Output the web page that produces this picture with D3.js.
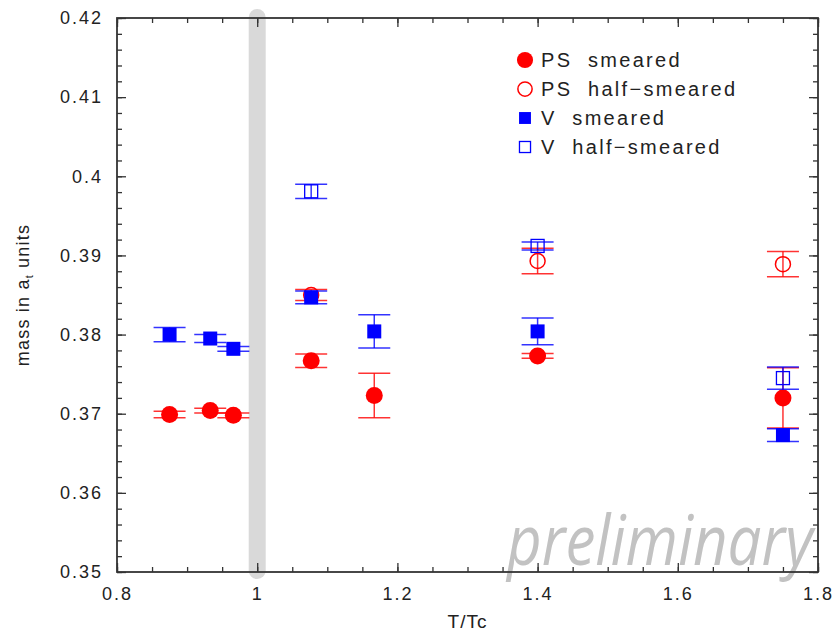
<!DOCTYPE html>
<html>
<head>
<meta charset="utf-8">
<script src="https://cdn.jsdelivr.net/npm/d3@7"></script>
<style>
	body { margin: 0; background: #fff; }
	svg text { font-family: 'Liberation Sans', Arial, sans-serif; fill: #222; }
</style>
</head>
<body>
<div id="chart"></div>
<script>
// T/Tc positions and masses (lattice units)
const tSmeared = [0.875, 0.933, 0.966, 1.077, 1.167, 1.4, 1.75]
const psSmeared = [0.3699, 0.3704, 0.3698, 0.3767, 0.3723, 0.3773, 0.3720]
const psSmearedErr = [0.0004, 0.0003, 0.0003, 0.00085, 0.0028, 0.0003, 0.0038]
const vSmeared = [0.3800, 0.3795, 0.3782, 0.3847, 0.3804, 0.3804, 0.3673]
const vSmearedErr = [0.0009, 0.0005, 0.0003, 0.0008, 0.0021, 0.0017, 0.0008]

const tHalf = [1.077, 1.4, 1.75]
const psHalf = [0.3850, 0.3893, 0.3889]
const psHalfErr = [0.0007, 0.0016, 0.0016]
const vHalf = [0.3981, 0.3912, 0.3745]
const vHalfErr = [0.0009, 0.0005, 0.0014]

const xTicks = [0.8, 1, 1.2, 1.4, 1.6, 1.8]
const yTicks = [0.35, 0.36, 0.37, 0.38, 0.39, 0.4, 0.41, 0.42]
const tcLine = 1

const legendLabels = ['PS  smeared', 'PS  half\u2212smeared', 'V  smeared', 'V  half\u2212smeared']

const width = 835
const height = 636
const margin = { top: 18, right: 17, bottom: 64, left: 117 }

const svg = d3.select('#chart').append('svg')
	.attr('width', width)
	.attr('height', height)

const x = d3.scaleLinear().domain([0.8, 1.8]).range([margin.left, width - margin.right])
const y = d3.scaleLinear().domain([0.35, 0.42]).range([height - margin.bottom, margin.top])

// grey band at Tc
svg.append('rect')
	.attr('x', x(tcLine) - 8.5)
	.attr('y', y(0.42) - 9)
	.attr('width', 17)
	.attr('height', y(0.35) - y(0.42) + 16)
	.attr('rx', 8.5)
	.attr('fill', '#d9d9d9')

// watermark, squeezed horizontally to fit the corner
const mark = svg.append('text')
	.style('font-family', "'Open Sans', sans-serif")
	.style('font-style', 'italic')
	.style('font-size', '70px')
	.style('fill', '#c2c2c2')
	.text('preliminary')
const markW = mark.node().getComputedTextLength()
mark.attr('transform', `translate(507,565) scale(${306 / markW},1)`)

// axes, ticks pointing inward on all four sides
const xMinor = d3.range(0.8, 1.8001, 0.05)
const yMinor = d3.range(0.35, 0.42001, 0.002)

function drawAxis(axis, transform, ticks, size, labels) {
	const g = svg.append('g')
		.attr('transform', transform)
		.call(axis.tickValues(ticks).tickSize(-size).tickSizeOuter(0).tickPadding(labels ? 12 : 0)
			.tickFormat(labels ? d3.format('') : ''))
	g.select('.domain').remove()
	g.selectAll('line').attr('stroke', '#333').attr('stroke-width', 1.3)
	g.selectAll('text')
		.style('font-size', '18px')
		.style('letter-spacing', '2px')
		.attr('fill', '#222')
	return g
}

const bottomY = y(0.35)
const topY = y(0.42)
drawAxis(d3.axisBottom(x), `translate(0,${bottomY})`, xMinor, 5, false)
drawAxis(d3.axisBottom(x), `translate(0,${bottomY})`, xTicks, 9, true)
	.selectAll('text').attr('dy', '0.9em')
drawAxis(d3.axisTop(x), `translate(0,${topY})`, xMinor, 5, false)
drawAxis(d3.axisTop(x), `translate(0,${topY})`, xTicks, 9, false)
drawAxis(d3.axisLeft(y), `translate(${x(0.8)},0)`, yMinor, 5, false)
drawAxis(d3.axisLeft(y), `translate(${x(0.8)},0)`, yTicks, 9, true)
	.selectAll('text').attr('dx', '-2px')
drawAxis(d3.axisRight(y), `translate(${x(1.8)},0)`, yMinor, 5, false)
drawAxis(d3.axisRight(y), `translate(${x(1.8)},0)`, yTicks, 9, false)

svg.append('rect')
	.attr('x', x(0.8))
	.attr('y', topY)
	.attr('width', x(1.8) - x(0.8))
	.attr('height', bottomY - topY)
	.attr('fill', 'none')
	.attr('stroke', '#333')
	.attr('stroke-width', 1.8)

// axis titles
svg.append('text')
	.attr('x', (x(0.8) + x(1.8)) / 2)
	.attr('y', 628)
	.attr('text-anchor', 'middle')
	.style('font-size', '19px')
	.style('letter-spacing', '1px')
	.text('T/Tc')

const yTitle = svg.append('text')
	.attr('transform', `translate(29,${(topY + bottomY) / 2}) rotate(-90)`)
	.attr('text-anchor', 'middle')
	.style('font-size', '18px')
	.style('letter-spacing', '1.2px')
yTitle.append('tspan').text('mass in a')
yTitle.append('tspan').attr('dy', 4).style('font-size', '11px').text('t')
yTitle.append('tspan').attr('dy', -4).text(' units')

// series
const series = [
	{ t: tSmeared, m: psSmeared, e: psSmearedErr, color: '#ff0000', shape: 'circle', filled: true },
	{ t: tHalf, m: psHalf, e: psHalfErr, color: '#ff0000', shape: 'circle', filled: false },
	{ t: tSmeared, m: vSmeared, e: vSmearedErr, color: '#0000ff', shape: 'square', filled: true },
	{ t: tHalf, m: vHalf, e: vHalfErr, color: '#0000ff', shape: 'square', filled: false },
]

function marker(g, s, cx, cy, scale) {
	if (s.shape === 'circle') {
		const r = (s.filled ? 8.5 : 7.5) * scale
		g.append('circle')
			.attr('cx', cx).attr('cy', cy).attr('r', r)
			.attr('fill', s.filled ? s.color : 'none')
			.attr('stroke', s.color)
			.attr('stroke-width', s.filled ? 0 : 1.5)
	} else {
		const a = (s.filled ? 14 : 13) * scale
		g.append('rect')
			.attr('x', cx - a / 2).attr('y', cy - a / 2)
			.attr('width', a).attr('height', a)
			.attr('fill', s.filled ? s.color : 'none')
			.attr('stroke', s.color)
			.attr('stroke-width', s.filled ? 0 : 1.3)
	}
}

const capHalf = 16
series.forEach(s => {
	const g = svg.append('g')
	const pts = s.t.map((t, i) => ({ t, m: s.m[i], e: s.e[i] }))
	const bars = g.selectAll('g.bar').data(pts).join('g').attr('class', 'bar')
		.attr('stroke', s.color).attr('stroke-width', 1.5).attr('stroke-opacity', 0.8)
	bars.append('line')
		.attr('x1', d => x(d.t)).attr('x2', d => x(d.t))
		.attr('y1', d => y(d.m - d.e)).attr('y2', d => y(d.m + d.e))
	bars.append('line')
		.attr('x1', d => x(d.t) - capHalf).attr('x2', d => x(d.t) + capHalf)
		.attr('y1', d => y(d.m - d.e)).attr('y2', d => y(d.m - d.e))
	bars.append('line')
		.attr('x1', d => x(d.t) - capHalf).attr('x2', d => x(d.t) + capHalf)
		.attr('y1', d => y(d.m + d.e)).attr('y2', d => y(d.m + d.e))
	pts.forEach(d => marker(g, s, x(d.t), y(d.m), 1))
})

// legend
const legend = svg.append('g')
series.forEach((s, i) => {
	const cy = 60 + i * 29
	marker(legend, s, 525, cy, s.shape === 'square' ? 0.85 : 0.95)
	legend.append('text')
		.attr('x', 541)
		.attr('y', cy + 7)
		.attr('xml:space', 'preserve')
		.style('white-space', 'pre')
		.style('font-size', '20px')
		.style('letter-spacing', '2.3px')
		.text(legendLabels[i])
})
</script>
</body>
</html>
